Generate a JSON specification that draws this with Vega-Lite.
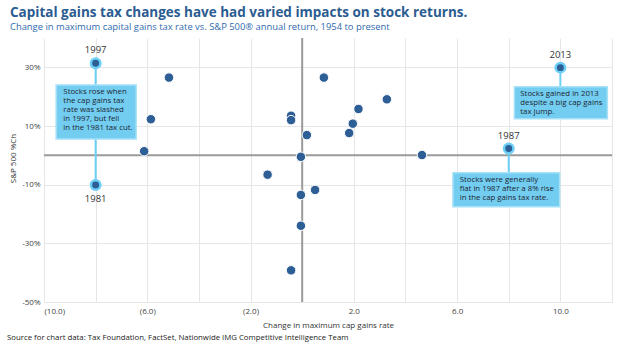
{
  "$schema": "https://vega.github.io/schema/vega-lite/v6.json",
  "width": 568,
  "height": 264,
  "autosize": {"type": "none"},
  "padding": {"left": 44, "top": 38, "right": 12, "bottom": 45},
  "background": "white",
  "title": {
    "text": "Capital gains tax changes have had varied impacts on stock returns.",
    "subtitle": "Change in maximum capital gains tax rate vs. S&P 500® annual return, 1954 to present",
    "anchor": "start",
    "frame": "group",
    "dx": -34,
    "offset": 6,
    "font": "Open Sans",
    "fontSize": 13.5,
    "fontWeight": "bold",
    "color": "#2B5C91",
    "subtitleFont": "Open Sans",
    "subtitleFontSize": 9.4,
    "subtitleColor": "#2F6BAE",
    "subtitlePadding": 3
  },
  "config": {
    "view": {"stroke": null},
    "font": "Open Sans",
    "axis": {
      "grid": true,
      "gridWidth": 1,
      "gridColor": "#e6e6e6",
      "ticks": false,
      "domain": false,
      "labelFont": "Open Sans",
      "labelFontSize": 8,
      "labelColor": "#444444",
      "titleFont": "Open Sans",
      "titleFontSize": 8,
      "titleFontWeight": "normal",
      "titleColor": "#333333"
    }
  },
  "datasets": {
    "points": [
      {"change": -8.0, "ret": 31.4, "year": "1997", "hl": true},
      {"change": -8.0, "ret": -10.1, "year": "1981", "hl": true},
      {"change": -5.16, "ret": 26.5, "year": null, "hl": false},
      {"change": -5.86, "ret": 12.3, "year": null, "hl": false},
      {"change": -6.12, "ret": 1.4, "year": null, "hl": false},
      {"change": 0.84, "ret": 26.5, "year": null, "hl": false},
      {"change": 3.28, "ret": 19.1, "year": null, "hl": false},
      {"change": 2.18, "ret": 15.8, "year": null, "hl": false},
      {"change": -0.43, "ret": 13.5, "year": null, "hl": false},
      {"change": -0.43, "ret": 12.0, "year": null, "hl": false},
      {"change": 1.96, "ret": 10.8, "year": null, "hl": false},
      {"change": 1.82, "ret": 7.6, "year": null, "hl": false},
      {"change": 0.18, "ret": 6.9, "year": null, "hl": false},
      {"change": -0.05, "ret": -0.5, "year": null, "hl": false},
      {"change": 4.64, "ret": 0.1, "year": null, "hl": false},
      {"change": -1.34, "ret": -6.6, "year": null, "hl": false},
      {"change": 0.5, "ret": -11.8, "year": null, "hl": false},
      {"change": -0.05, "ret": -13.5, "year": null, "hl": false},
      {"change": -0.05, "ret": -24.0, "year": null, "hl": false},
      {"change": -0.43, "ret": -39.2, "year": null, "hl": false},
      {"change": 10.0, "ret": 29.9, "year": "2013", "hl": true},
      {"change": 8.0, "ret": 2.3, "year": "1987", "hl": true}
    ],
    "notes": [
      {"x1": -9.53, "x2": -6.43, "y1": 24.0, "y2": 5.6, "tx": -9.25, "ty": 22.8, "lx": -8.0, "ly1": 31.4, "ly2": -10.1,
       "label": "Stocks rose when\nthe cap gains tax\nrate was slashed\nin 1997, but fell\nin the 1981 tax cut."},
      {"x1": 8.22, "x2": 11.82, "y1": 23.4, "y2": 12.5, "tx": 8.45, "ty": 22.2, "lx": 10.0, "ly1": 29.9, "ly2": 23.4,
       "label": "Stocks gained in 2013\ndespite a big cap gains\ntax jump."},
      {"x1": 5.84, "x2": 9.97, "y1": -5.9, "y2": -17.5, "tx": 6.1, "ty": -7.2, "lx": 8.0, "ly1": 2.3, "ly2": -5.9,
       "label": "Stocks were generally\nflat in 1987 after a 8% rise\nin the cap gains tax rate."}
    ],
    "zero": [{"z": 0}]
  },
  "layer": [
    {
      "data": {"name": "zero"},
      "mark": {"type": "rule", "color": "#9a9a9a", "strokeWidth": 2},
      "encoding": {
        "y": {"field": "z", "type": "quantitative", "title": "S&P 500 %Ch"}
      }
    },
    {
      "data": {"name": "zero"},
      "mark": {"type": "rule", "color": "#9a9a9a", "strokeWidth": 2},
      "encoding": {
        "x": {"field": "z", "type": "quantitative", "title": "Change in maximum cap gains rate"}
      }
    },
    {
      "data": {"name": "notes"},
      "mark": {"type": "rule", "color": "#6CCFF6", "strokeWidth": 2},
      "encoding": {
        "x": {"field": "lx", "type": "quantitative", "title": "Change in maximum cap gains rate"},
        "y": {"field": "ly1", "type": "quantitative", "title": "S&P 500 %Ch"},
        "y2": {"field": "ly2"}
      }
    },
    {
      "data": {"name": "notes"},
      "mark": {"type": "rect", "fill": "#72CDF0", "stroke": "#A6E1F7", "strokeWidth": 1.5},
      "encoding": {
        "x": {"field": "x1", "type": "quantitative", "title": "Change in maximum cap gains rate"},
        "x2": {"field": "x2"},
        "y": {"field": "y1", "type": "quantitative", "title": "S&P 500 %Ch"},
        "y2": {"field": "y2"}
      }
    },
    {
      "data": {"name": "notes"},
      "mark": {"type": "text", "align": "left", "baseline": "top", "lineBreak": "\n", "lineHeight": 9, "fontSize": 7.8, "color": "#1d2633", "font": "Open Sans"},
      "encoding": {
        "x": {"field": "tx", "type": "quantitative", "title": "Change in maximum cap gains rate"},
        "y": {"field": "ty", "type": "quantitative", "title": "S&P 500 %Ch"},
        "text": {"field": "label"}
      }
    },
    {
      "data": {"name": "points"},
      "mark": {"type": "point", "filled": true, "size": 90, "opacity": 1},
      "encoding": {
        "x": {
          "field": "change",
          "type": "quantitative",
          "title": "Change in maximum cap gains rate",
          "scale": {"domain": [-10, 12], "nice": false, "zero": false},
          "axis": {
            "values": [-10, -8, -6, -4, -2, 0, 2, 4, 6, 8, 10, 12],
            "labelExpr": "indexof([-10,-6,-2,2,6,10], datum.value) >= 0 ? (datum.value < 0 ? '(' + format(-datum.value, '.1f') + ')' : format(datum.value, '.1f')) : ''",
            "labelPadding": 5,
            "titlePadding": 6
          }
        },
        "y": {
          "field": "ret",
          "type": "quantitative",
          "title": "S&P 500 %Ch",
          "scale": {"domain": [-50, 40], "nice": false, "zero": false},
          "axis": {
            "values": [-50, -40, -30, -20, -10, 0, 10, 20, 30, 40],
            "labelExpr": "indexof([-50,-30,-10,10,30], datum.value) >= 0 ? datum.value + '%' : ''",
            "labelPadding": 4,
            "titleX": -27,
            "titleY": 120
          }
        },
        "color": {"value": "#2D5E96"},
        "stroke": {"condition": {"test": "datum.hl", "value": "#6CCFF6"}, "value": "#ffffff"},
        "strokeWidth": {"condition": {"test": "datum.hl", "value": 2.5}, "value": 1}
      }
    },
    {
      "data": {"name": "points"},
      "transform": [{"filter": "datum.year != null && datum.year != '1981'"}],
      "mark": {"type": "text", "dy": -13, "fontSize": 9.5, "color": "#333333", "font": "Open Sans"},
      "encoding": {
        "x": {"field": "change", "type": "quantitative", "title": "Change in maximum cap gains rate"},
        "y": {"field": "ret", "type": "quantitative", "title": "S&P 500 %Ch"},
        "text": {"field": "year"}
      }
    },
    {
      "data": {"name": "points"},
      "transform": [{"filter": "datum.year == '1981'"}],
      "mark": {"type": "text", "dy": 14, "fontSize": 9.5, "color": "#333333", "font": "Open Sans"},
      "encoding": {
        "x": {"field": "change", "type": "quantitative", "title": "Change in maximum cap gains rate"},
        "y": {"field": "ret", "type": "quantitative", "title": "S&P 500 %Ch"},
        "text": {"field": "year"}
      }
    },
    {
      "data": {"values": [{"src": "Source for chart data: Tax Foundation, FactSet, Nationwide IMG Competitive Intelligence Team", "sx": -10, "sy": -50}]},
      "mark": {"type": "text", "align": "left", "baseline": "middle", "dx": -37, "dy": 36, "fontSize": 7.8, "color": "#222222", "font": "Open Sans"},
      "encoding": {
        "x": {"field": "sx", "type": "quantitative", "title": "Change in maximum cap gains rate"},
        "y": {"field": "sy", "type": "quantitative", "title": "S&P 500 %Ch"},
        "text": {"field": "src"}
      }
    }
  ]
}
